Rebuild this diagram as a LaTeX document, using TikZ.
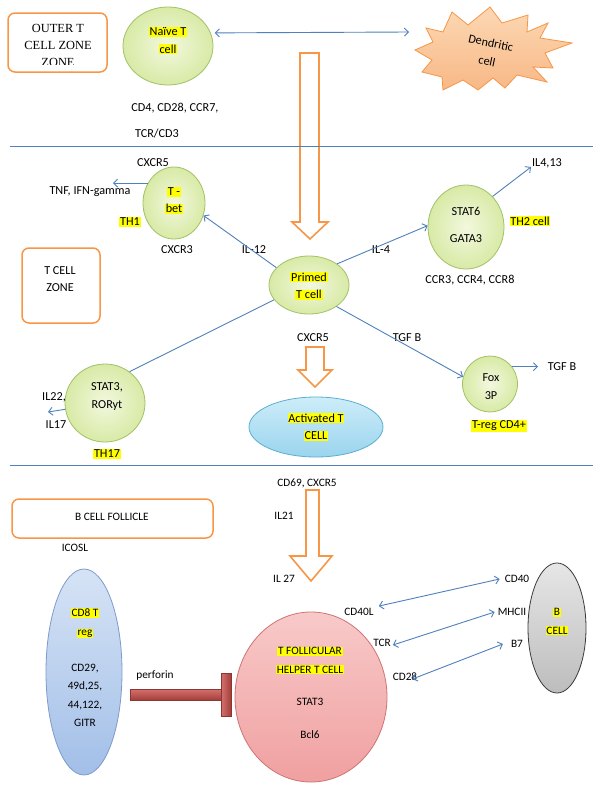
\documentclass[tikz,border=0pt]{standalone}
\usepackage{fontspec}
\setmainfont{Carlito}
\newfontfamily\seriffont{Liberation Serif}
\usetikzlibrary{shapes.geometric,arrows.meta}
\definecolor{lblue}{HTML}{4F81BD}
\definecolor{orng}{HTML}{F79646}
\definecolor{gborder}{HTML}{A3C168}
\definecolor{ginner}{HTML}{F2F8DE}
\definecolor{gouter}{HTML}{D8EAA6}
\definecolor{dcfilltop}{HTML}{FCD8B4}
\definecolor{dcfillbot}{HTML}{F8B886}
\definecolor{acttop}{HTML}{CDEDF9}
\definecolor{actbot}{HTML}{9AD4EE}
\definecolor{actborder}{HTML}{5AAFD0}
\definecolor{cdtop}{HTML}{D6E3F5}
\definecolor{cdbot}{HTML}{A2BFE8}
\definecolor{cdborder}{HTML}{7D9BCB}
\definecolor{tfhtop}{HTML}{F8C9C9}
\definecolor{tfhbot}{HTML}{F0A0A0}
\definecolor{tfhborder}{HTML}{CF7471}
\definecolor{btop}{HTML}{E6E6E6}
\definecolor{bbot}{HTML}{BDBDBD}
\definecolor{bborder}{HTML}{3A3A3A}
\definecolor{barlight}{HTML}{D4716E}
\definecolor{bardark}{HTML}{A53E3B}
\definecolor{barborder}{HTML}{8A3634}
\definecolor{hly}{HTML}{FFFF00}
\newcommand{\hl}[1]{{\setlength{\fboxsep}{0.8pt}\colorbox{hly}{#1}}}
\newcommand{\fsa}{\fontsize{12.2}{14.6}\selectfont}
\newcommand{\fsb}{\fontsize{11.3}{13.5}\selectfont}
\begin{document}
\begin{tikzpicture}[x=1pt,y=-1pt,
  blu/.style={draw=lblue,line width=0.9pt},
  arr/.style={blu,-{Straight Barb[length=4pt,width=8pt]}},
  darr/.style={blu,{Straight Barb[length=4pt,width=8pt]}-{Straight Barb[length=4pt,width=8pt]}},
  cell/.style={ellipse,draw=gborder,line width=0.8pt,inner color=ginner,outer color=gouter,inner sep=0pt},
  ta/.style={font=\fsa,align=center,inner sep=0pt},
  tb/.style={font=\fsb,align=center,inner sep=0pt},
  zonebox/.style={draw=orng,line width=1.5pt,rounded corners=7pt},
  blockarrow/.style={draw=orng,line width=1.6pt,line join=miter}]
\useasboundingbox[fill=white] (0,0) rectangle (600,787);

% zone boxes
\draw[zonebox] (8,13) rectangle (107,72);
\begin{scope}
  \clip (9,14) rectangle (106,64.5);
  \node[font=\seriffont\fontsize{12.4}{17}\selectfont,align=center,inner sep=0pt] (outertxt) at (58,45) {OUTER T\\CELL ZONE\\ZONE};
\end{scope}
\draw[zonebox] (22,248) rectangle (100,323);
\node[ta] (tzonetxt) at (60,279) {T CELL\\[3pt]ZONE};
\draw[zonebox] (12,499) rectangle (213,538);
\node[tb] (bzonetxt) at (112,517) {B CELL FOLLICLE};

% block arrows
\draw[blockarrow] (300,53) -- (319,53) -- (319,222) -- (328,222) -- (310,239) -- (292,222) -- (300,222) -- cycle;
\draw[blockarrow] (306,347) -- (324,347) -- (324,370) -- (332,370) -- (315,387) -- (298,370) -- (306,370) -- cycle;
\draw[blockarrow] (306,490) -- (319,490) -- (319,556) -- (332,556) -- (311,581) -- (290,556) -- (306,556) -- cycle;

% dividers
\draw[blu] (10,146) -- (593,146);
\draw[blu] (10,465) -- (593,465);

% dendritic cell
\draw[draw=orng,line width=0.8pt,top color=dcfilltop,bottom color=dcfillbot]
  (415,50) -- (433,42) -- (426,28) -- (443,32) -- (452,12) -- (468,25) -- (490,7) -- (502,23)
  -- (528,15) -- (527,32) -- (548,23) -- (540,38) -- (572,43) -- (545,53) -- (553,68)
  -- (533,67) -- (547,82) -- (517,75) -- (505,88) -- (493,78) -- (478,90) -- (463,80)
  -- (443,90) -- (442,77) -- (422,72) -- (432,60) -- cycle;
\node[ta,rotate=-12] (dc) at (489,52) {Dendritic\\[4pt]cell};
\coordinate (dcw) at (409,32);

% cells
\node[cell,minimum width=90pt,minimum height=78pt] (naive) at (168,46) {};
\node[ta] (naivetxt) at (168,40.5) {\hl{Naïve T}\\[2.5pt]\hl{cell}};
\node[cell,minimum width=62pt,minimum height=72pt] (th1) at (174,203) {};
\node[ta] (th1txt) at (174,200.5) {\hl{T -}\\[2.5pt]\hl{bet}};
\node[cell,minimum width=80pt,minimum height=58pt] (primed) at (309,285) {};
\node[ta] (primedtxt) at (309,286) {\hl{Primed}\\[3pt]\hl{T cell}};
\node[cell,minimum width=76pt,minimum height=84pt] (th2) at (466,227) {};
\node[ta] (th2txt) at (466,225) {STAT6\\[13pt]GATA3};
\node[cell,minimum width=80pt,minimum height=78pt] (th17) at (105,403) {};
\node[ta] (th17txt) at (107,396.5) {STAT3,\\[4pt]RORyt};
\node[cell,minimum width=55pt,minimum height=56pt] (treg) at (490,384) {};
\node[ta] (tregtxt) at (491,386.5) {Fox\\[4pt]3P};
\node[ellipse,draw=actborder,line width=0.8pt,top color=acttop,bottom color=actbot,minimum width=134pt,minimum height=60pt] (act) at (316,427) {};
\node[ta] (acttxt) at (316,427) {\hl{Activated T}\\[3pt]\hl{CELL}};

\node[ellipse,draw=cdborder,line width=0.8pt,top color=cdtop,bottom color=cdbot,minimum width=76pt,minimum height=206pt] (cd8) at (84,672) {};
\node[tb] (cd8name) at (85,623) {\hl{CD8 T}\\[5pt]\hl{reg}};
\node[tb] (cd8mark) at (85,695.5) {CD29,\\[5pt]49d,25,\\[5pt]44,122,\\[5pt]GITR};
\node[ellipse,draw=tfhborder,line width=0.8pt,top color=tfhtop,bottom color=tfhbot,minimum width=152pt,minimum height=170pt] (tfh) at (311,697) {};
\node[tb] (tfhname) at (310,660.5) {\hl{T FOLLICULAR}\\[5pt]\hl{HELPER T CELL}};
\node[tb] (tfhstat) at (310,702) {STAT3};
\node[tb] (tfhbcl) at (310,735) {Bcl6};
\node[ellipse,draw=bborder,line width=0.8pt,top color=btop,bottom color=bbot,minimum width=58pt,minimum height=130pt] (bcell) at (557,628) {};
\node[tb] (bcelltxt) at (557,621.5) {\hl{B}\\[5pt]\hl{CELL}};

% perforin bar
\draw[draw=barborder,line width=0.6pt,top color=barlight,bottom color=bardark] (130,689) rectangle (222,700);
\draw[draw=barborder,line width=0.6pt,left color=barlight,right color=bardark] (221,673) rectangle (231,716);

% labels top / middle
\node[ta] (cd4) at (175,108) {CD4, CD28, CCR7,};
\node[ta] (tcrcd3) at (157,134) {TCR/CD3};
\node[ta] (cxcr5a) at (153,163) {CXCR5};
\node[ta] (tnf) at (90,192) {TNF, IFN-gamma};
\node[ta] (th1lbl) at (130,222) {\hl{TH1}};
\node[ta] (cxcr3) at (177,250) {CXCR3};
\node[ta] (il12) at (254,250) {IL-12};
\node[ta] (il4) at (381,250) {IL-4};
\node[ta] (il413) at (547,163) {IL4,13};
\node[ta] (th2lbl) at (530,221) {\hl{TH2 cell}};
\node[ta] (ccr) at (470,280) {CCR3, CCR4, CCR8};
\node[ta] (cxcr5b) at (313,338) {CXCR5};
\node[ta] (tgfb1) at (407,338) {TGF B};
\node[ta] (tgfb2) at (562,367) {TGF B};
\node[ta] (treglbl) at (499,426) {\hl{T-reg CD4+}};
\node[ta] (il22) at (54,397) {IL22,};
\node[ta] (il17) at (56,425) {IL17};
\node[ta] (th17lbl) at (107,454) {\hl{TH17}};

% labels bottom
\node[tb] (cd69) at (307,483) {CD69, CXCR5};
\node[tb] (il21) at (284,516) {IL21};
\node[tb] (il27) at (284,579) {IL 27};
\node[tb] (icosl) at (75,548) {ICOSL};
\node[tb] (perforin) at (155,676) {perforin};
\node[tb] (cd40l) at (359,612) {CD40L};
\node[tb] (cd40) at (517,579) {CD40};
\node[tb] (tcr) at (382,643) {TCR};
\node[tb] (mhcii) at (512,612) {MHCII};
\node[tb] (cd28) at (405,677) {CD28};
\node[tb] (b7) at (517,644) {B7};

% connectors
\coordinate (tnfend) at (113,184);
\coordinate (il413end) at (531,167);
\coordinate (il17end) at (48,412);
\coordinate (tgfend) at (538,367);
\draw[darr,shorten <=4pt] (naive.17) -- (dcw);
\draw[arr] (primed.152) -- (th1.-23);
\draw[arr] (primed.37) -- (th2.178);
\draw[blu] (primed.203) -- (th17.52);
\draw[arr] (primed.322) -- (treg.165);
\draw[arr] (th1.143) -- (th1.143 -| tnfend);
\draw[arr] (th2.49) -- (il413end);
\draw[arr] (th17.189) -- (il17end);
\draw[arr] (treg.38) -- (treg.38 -| tgfend);
\draw[darr] ([shift={(5,-2)}]cd40l.north east) -- ([xshift=-5pt]cd40.west);
\draw[darr] ([xshift=2pt,yshift=-2pt]tcr.east) -- ([xshift=-3pt]mhcii.west);
\draw[darr] ([xshift=-5pt,yshift=-2pt]cd28.east) -- ([xshift=-8pt]b7.west);
\end{tikzpicture}
\end{document}
